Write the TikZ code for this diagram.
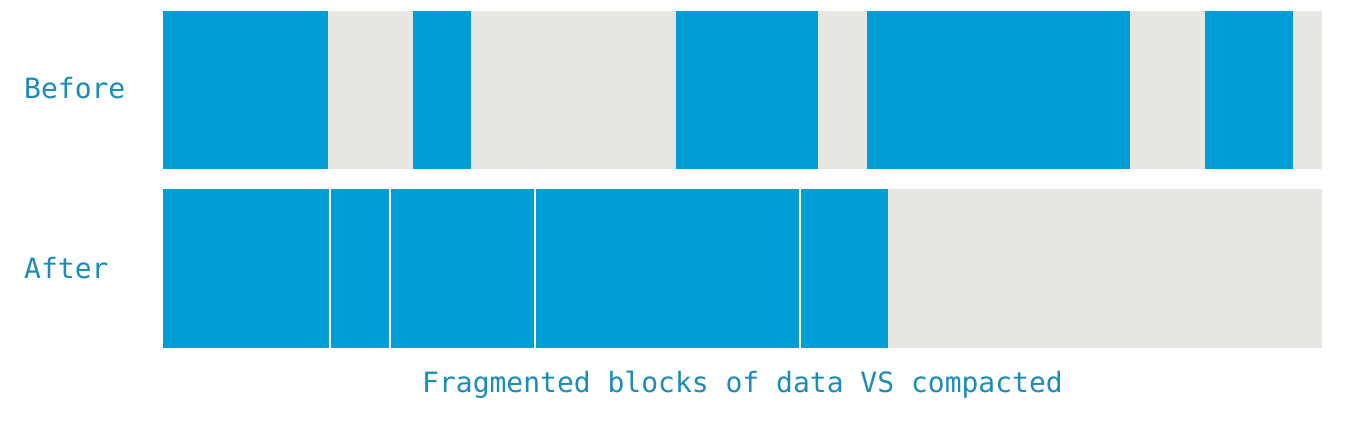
\documentclass[tikz,border=0pt]{standalone}
\usepackage{fontspec}
\setmonofont{DejaVu Sans Mono}
\definecolor{blockblue}{RGB}{0,157,214}
\definecolor{freegray}{RGB}{231,230,227}
\definecolor{labelblue}{RGB}{25,140,185}
\tikzset{
  rowlabel/.style={anchor=west, inner sep=0pt, text=labelblue, font=\ttfamily\fontsize{28}{30}\selectfont},
}
\begin{document}
\begin{tikzpicture}[x=1pt, y=-1pt]
      \useasboundingbox[fill=white] (0,0) rectangle (1346,434);
      % Before: fragmented
      \fill[freegray] (163,11) rectangle (1322,169);
      \foreach \a/\b in {163/328, 413/471, 676/818, 867/1130, 1205/1293}
        \fill[blockblue] (\a,11) rectangle (\b,169);
      % After: compacted
      \fill[freegray] (888,189) rectangle (1322,348);
      \foreach \a/\b in {163/328.5, 330.5/389, 391/533.5, 535.5/798.5, 800.5/888}
        \fill[blockblue] (\a,189) rectangle (\b,348);
      \node[rowlabel] (before) at (24,88) {Before};
      \node[rowlabel] (after) at (24,268) {After};
      \node[rowlabel, anchor=center] (caption) at (742.5,385) {Fragmented blocks of data VS compacted};
\end{tikzpicture}
\end{document}
